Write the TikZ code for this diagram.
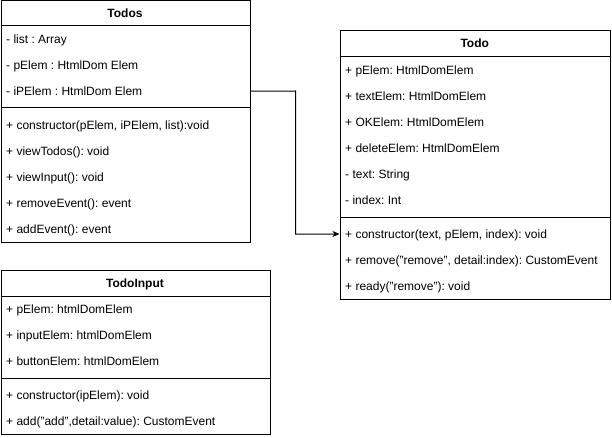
\documentclass[tikz,border=0pt]{standalone}
\usepackage{fontspec}
\setmainfont{Liberation Sans}
\usetikzlibrary{arrows.meta}
\frenchspacing

\tikzset{
  classbox/.style={draw=black,line width=1pt,anchor=north west,inner sep=0pt},
  classtitle/.style={anchor=base,yshift=-4.5pt,inner sep=0pt,font=\fontsize{12}{14}\selectfont\bfseries},
  member/.style={anchor=base west,yshift=-4.5pt,inner sep=0pt,font=\fontsize{12}{14}\selectfont},
  divider/.style={line width=1pt},
  assoc/.style={line width=1pt,-{Stealth[length=7pt,width=6pt,inset=2pt]}}
}

\begin{document}
\begin{tikzpicture}[x=1pt,y=-1pt]
  \useasboundingbox (0,0) rectangle (612,438);
  % Todos
  \node[classbox,minimum width=249.5pt,minimum height=241.5pt] (todos) at (0.5,0.5) {};
  \draw[divider] (todos.west |- 0,26) -- (todos.east |- 0,26);
  \draw[divider] (todos.west |- 0,108) -- (todos.east |- 0,108);
  \node[classtitle] (todos-t) at (125,13) {Todos};
  \node[member] (todos-a1) at (6,39) {- list : Array};
  \node[member] (todos-a2) at (6,65) {- pElem : HtmlDom Elem};
  \node[member] (todos-a3) at (6,91) {- iPElem : HtmlDom Elem};
  \node[member] (todos-m1) at (6,125) {+ constructor(pElem, iPElem, list):void};
  \node[member] (todos-m2) at (6,151) {+ viewTodos(): void};
  \node[member] (todos-m3) at (6,177) {+ viewInput(): void};
  \node[member] (todos-m4) at (6,203) {+ removeEvent(): event};
  \node[member] (todos-m5) at (6,229) {+ addEvent(): event};
  % Todo
  \node[classbox,minimum width=270.5pt,minimum height=268pt] (todo) at (339.5,30.5) {};
  \draw[divider] (todo.west |- 0,57) -- (todo.east |- 0,57);
  \draw[divider] (todo.west |- 0,217) -- (todo.east |- 0,217);
  \node[classtitle] (todo-t) at (474.75,43.5) {Todo};
  \node[member] (todo-a1) at (345,70) {+ pElem: HtmlDomElem};
  \node[member] (todo-a2) at (345,96) {+ textElem: HtmlDomElem};
  \node[member] (todo-a3) at (345,122) {+ OKElem: HtmlDomElem};
  \node[member] (todo-a4) at (345,148) {+ deleteElem: HtmlDomElem};
  \node[member] (todo-a5) at (345,174) {- text: String};
  \node[member] (todo-a6) at (345,200) {- index: Int};
  \node[member] (todo-m1) at (345,234) {+ constructor(text, pElem, index): void};
  \node[member] (todo-m2) at (345,260) {+ remove("remove", detail:index): CustomEvent};
  \node[member] (todo-m3) at (345,286) {+ ready("remove"): void};
  % TodoInput
  \node[classbox,minimum width=269.5pt,minimum height=164pt] (input) at (0.5,270) {};
  \draw[divider] (input.west |- 0,296) -- (input.east |- 0,296);
  \draw[divider] (input.west |- 0,378) -- (input.east |- 0,378);
  \node[classtitle] (input-t) at (135,283) {TodoInput};
  \node[member] (input-a1) at (6,309) {+ pElem: htmlDomElem};
  \node[member] (input-a2) at (6,335) {+ inputElem: htmlDomElem};
  \node[member] (input-a3) at (6,361) {+ buttonElem: htmlDomElem};
  \node[member] (input-m1) at (6,395) {+ constructor(ipElem): void};
  \node[member] (input-m2) at (6,421) {+ add("add",detail:value): CustomEvent};
  % association
  \draw[assoc] (todos.east |- todos-a3) -- (295.5,91) |- (todo.west |- 0,234);
\end{tikzpicture}
\end{document}
